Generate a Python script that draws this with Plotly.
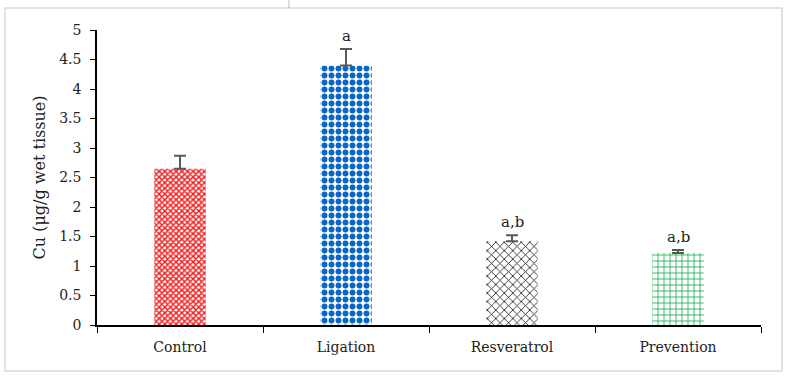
import plotly.graph_objects as go

categories = ["Control", "Ligation", "Resveratrol", "Prevention"]
values = [2.65, 4.40, 1.42, 1.22]
errors = [0.22, 0.28, 0.10, 0.05]
letters = ["", "a", "a,b", "a,b"]
y_ticks = [0, 0.5, 1, 1.5, 2, 2.5, 3, 3.5, 4, 4.5, 5]
y_tick_text = ["0", "0.5", "1", "1.5", "2", "2.5", "3", "3.5", "4", "4.5", "5"]

fg_colors = ["#f01818", "#0a66c2", "#111111", "#14a850"]
shapes_pat = ["x", ".", "x", "+"]
sizes_pat = [4, 7, 6, 6]
solid_pat = [0.6, 0.55, 0.25, 0.25]

FONT = "DejaVu Serif"

fig = go.Figure()
fig.add_trace(go.Bar(
    x=categories, y=values, width=0.31,
    marker=dict(
        color="white",
        line=dict(width=0),
        pattern=dict(shape=shapes_pat, fgcolor=fg_colors, bgcolor="white",
                     size=sizes_pat, solidity=solid_pat, fillmode="replace",
                     fgopacity=1),
    ),
    error_y=dict(type="data", array=errors, arrayminus=[0]*len(errors),
                 symmetric=False, color="#595959", thickness=2, width=6),
    showlegend=False,
    hoverinfo="skip",
))

for c, v, e, t in zip(categories, values, errors, letters):
    if t:
        fig.add_annotation(x=c, y=v + e, text=t, showarrow=False, yshift=13,
                           font=dict(family=FONT, size=15, color="#222222"))

# outer border and stray top mark
fig.add_shape(type="rect", xref="paper", yref="paper", x0=-0.1386, x1=1.0316,
              y0=-0.156, y1=1.0746, line=dict(color="#d9d9d9", width=1.5))
fig.add_shape(type="line", xref="paper", yref="paper", x0=0.289, x1=0.289,
              y0=1.0746, y1=1.1017, line=dict(color="#bfbfbf", width=1))

fig.update_layout(
    width=787, height=377,
    margin=dict(l=97, r=26, t=30, b=52, autoexpand=False),
    plot_bgcolor="white", paper_bgcolor="white",
    font=dict(family=FONT, size=14, color="#222222"),
    xaxis=dict(showline=True, linecolor="black", linewidth=1.5,
               ticks="outside", tickson="boundaries", ticklen=6, tickcolor="black",
               ticklabelstandoff=8,
               tickfont=dict(family=FONT, size=14), showgrid=False),
    yaxis=dict(range=[0, 5], tickvals=y_ticks, ticktext=y_tick_text,
               showline=True, linecolor="black", linewidth=1.5,
               ticks="outside", ticklen=5, tickcolor="black", showgrid=False,
               zeroline=False, ticklabelstandoff=6,
               tickfont=dict(family=FONT, size=14),
               title=dict(text="Cu (μg/g wet tissue)", font=dict(family=FONT, size=16),
                          standoff=10)),
)

fig.write_html("out.html", config={"displayModeBar": False},
               post_script="document.body.style.margin='0';")
